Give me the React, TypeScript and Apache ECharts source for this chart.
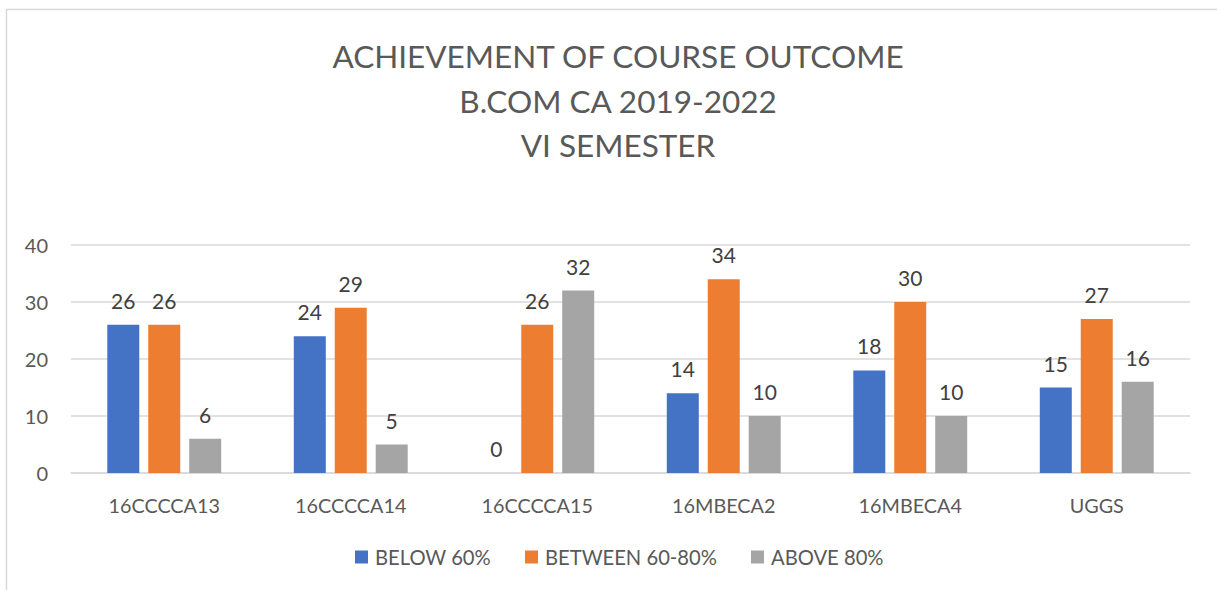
import React, { useEffect, useRef } from "react";
import * as echarts from "echarts";

const categories = ["16CCCCA13", "16CCCCA14", "16CCCCA15", "16MBECA2", "16MBECA4", "UGGS"];
const below60 = [26, 24, 0, 14, 18, 15];
const between6080 = [26, 29, 26, 34, 30, 27];
const above80 = [6, 5, 32, 10, 10, 16];
const seriesNames = ["BELOW 60%", "BETWEEN 60-80%", "ABOVE 80%"];
const colors = ["#4472C4", "#ED7D31", "#A5A5A5"];
const titleLines = ["ACHIEVEMENT OF COURSE OUTCOME", "B.COM CA 2019-2022", "VI SEMESTER"];

const FONT = "Lato, 'Open Sans', sans-serif";

export default function App() {
  const ref = useRef<HTMLDivElement>(null);
  useEffect(() => {
    if (!ref.current) return;
    const chart = echarts.init(ref.current, null, { renderer: "svg" });
    const data = [below60, between6080, above80];
    chart.setOption({
      animation: false,
      backgroundColor: "#ffffff",
      title: {
        text: titleLines.join("\n"),
        left: 613,
        textAlign: "center",
        top: 29,
        textStyle: {
          fontFamily: FONT,
          fontSize: 31.5,
          fontWeight: "normal",
          color: "#595959",
          lineHeight: 44.5,
        },
      },
      graphic: [
        {
          type: "rect",
          shape: { x: 6.5, y: 9.5, width: 1300, height: 700 },
          style: { fill: "none", stroke: "#d9d9d9", lineWidth: 1.5 },
          silent: true,
        },
      ],
      legend: {
        bottom: 18,
        left: 350,
        itemWidth: 13,
        itemHeight: 13,
        itemGap: 34,
        icon: "rect",
        textStyle: { fontFamily: FONT, fontSize: 20.2, color: "#595959", padding: [0, 0, 0, 2] },
        data: seriesNames,
      },
      grid: { left: 71, right: 27, top: 245, bottom: 117 },
      xAxis: {
        type: "category",
        data: categories,
        axisLine: { lineStyle: { color: "#d9d9d9", width: 1.5 } },
        axisTick: { show: false },
        axisLabel: { fontFamily: FONT, fontSize: 19.8, color: "#595959", margin: 22 },
      },
      yAxis: {
        type: "value",
        min: 0,
        max: 40,
        interval: 10,
        axisLine: { show: false },
        axisTick: { show: false },
        splitLine: { lineStyle: { color: "#d9d9d9", width: 1.5 } },
        axisLabel: { fontFamily: FONT, fontSize: 20, color: "#595959", margin: 23 },
      },
      series: seriesNames.map((name, i) => ({
        name,
        type: "bar",
        data: data[i],
        barWidth: 32,
        barGap: "28%",
        itemStyle: { color: colors[i] },
        label: {
          show: true,
          position: "top",
          distance: 14,
          fontFamily: FONT,
          fontSize: 21,
          color: "#404040",
        },
      })),
    });
    return () => chart.dispose();
  }, []);
  return (
    <div
      ref={ref}
      style={{ position: "fixed", left: 0, top: 0, width: 1217, height: 590 }}
    />
  );
}
